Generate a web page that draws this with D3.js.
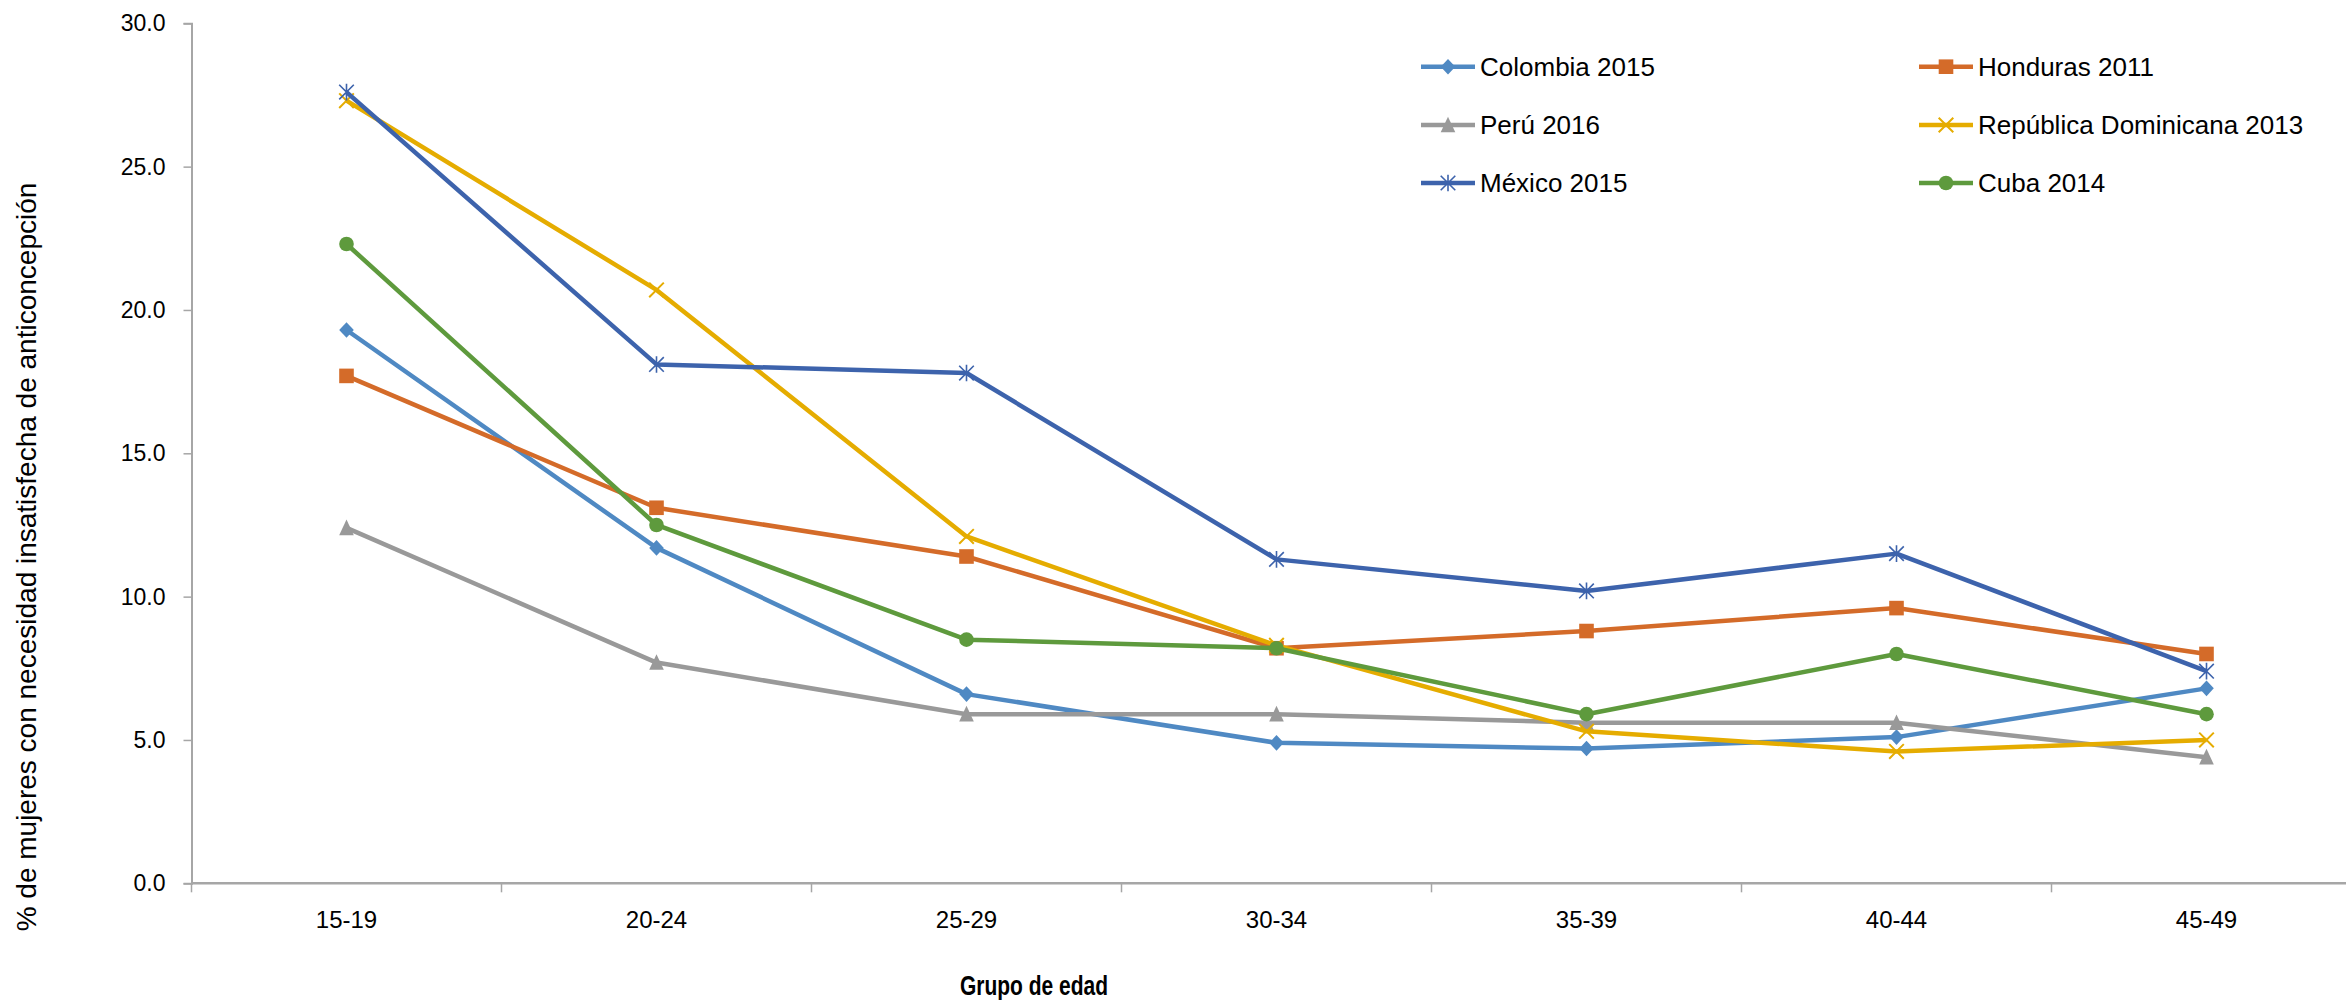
<!DOCTYPE html>
<html>
<head>
<meta charset="utf-8">
<script src="https://cdn.jsdelivr.net/npm/d3@7"></script>
<style>
  html, body { margin: 0; padding: 0; background: #ffffff; }
  svg { display: block; }
  text { font-family: "Liberation Sans", Arial, sans-serif; fill: #000; }
</style>
</head>
<body>
<svg id="chart" width="2346" height="1000"></svg>
<script>
// ---- data ----
const categories = ["15-19", "20-24", "25-29", "30-34", "35-39", "40-44", "45-49"];
const seriesNames = ["Colombia 2015", "Honduras 2011", "Perú 2016", "República Dominicana 2013", "México 2015", "Cuba 2014"];
const colombia = [19.3, 11.7, 6.6, 4.9, 4.7, 5.1, 6.8];
const honduras = [17.7, 13.1, 11.4, 8.2, 8.8, 9.6, 8.0];
const peru = [12.4, 7.7, 5.9, 5.9, 5.6, 5.6, 4.4];
const repDominicana = [27.3, 20.7, 12.1, 8.3, 5.3, 4.6, 5.0];
const mexico = [27.6, 18.1, 17.8, 11.3, 10.2, 11.5, 7.4];
const cuba = [22.3, 12.5, 8.5, 8.2, 5.9, 8.0, 5.9];
const yTicks = [0, 5, 10, 15, 20, 25, 30];
const yTitle = "% de mujeres con necesidad insatisfecha de anticoncepción";
const xTitle = "Grupo de edad";

// ---- styles ----
const colors = ["#4F89C3", "#D46B29", "#999999", "#E5AC00", "#3D63AC", "#5E9A3D"];
const markers = ["diamond", "square", "triangle", "cross", "asterisk", "circle"];
const seriesValues = [colombia, honduras, peru, repDominicana, mexico, cuba];

const svg = d3.select("#chart");
const plotLeft = 191.5, plotRight = 2361.5, plotTop = 23.3, plotBottom = 883.3;

const x = d3.scaleBand().domain(categories).range([plotLeft, plotRight]).padding(0);
const y = d3.scaleLinear().domain([0, 30]).range([plotBottom, plotTop]);
const cx = c => x(c) + x.bandwidth() / 2;

const axisColor = "#A6A6A6";

// Y axis
const yAxis = svg.append("g").attr("transform", `translate(${plotLeft},0)`)
  .call(d3.axisLeft(y).tickValues(yTicks).tickFormat(d3.format(".1f")).tickSize(8).tickPadding(18));
yAxis.select(".domain").attr("stroke", axisColor).attr("stroke-width", 2);
yAxis.selectAll(".tick line").attr("stroke", axisColor).attr("stroke-width", 1.5);
yAxis.selectAll(".tick text").attr("font-size", 23).attr("font-family", "Liberation Sans, Arial, sans-serif").attr("fill", "#000");

// X axis: labels centered in bands, tick marks at band boundaries
const xAxis = svg.append("g").attr("transform", `translate(0,${plotBottom})`)
  .call(d3.axisBottom(x).tickSize(0).tickPadding(28));
xAxis.select(".domain").remove();
xAxis.selectAll(".tick text").attr("font-size", 24).attr("font-family", "Liberation Sans, Arial, sans-serif").attr("fill", "#000");
svg.append("line").attr("x1", plotLeft).attr("x2", 2346).attr("y1", plotBottom).attr("y2", plotBottom)
  .attr("stroke", axisColor).attr("stroke-width", 2.5);
svg.append("g").selectAll("line").data(d3.range(categories.length + 1)).join("line")
  .attr("x1", i => plotLeft + i * x.step()).attr("x2", i => plotLeft + i * x.step())
  .attr("y1", plotBottom).attr("y2", plotBottom + 9)
  .attr("stroke", axisColor).attr("stroke-width", 1.5);

// marker drawing
function drawMarker(g, type, color, px, py) {
  const s = 7.3;
  if (type === "diamond") {
    g.append("path").attr("d", `M${px},${py - s - 0.5}L${px + s},${py}L${px},${py + s + 0.5}L${px - s},${py}Z`).attr("fill", color);
  } else if (type === "square") {
    g.append("rect").attr("x", px - s).attr("y", py - s).attr("width", 2 * s).attr("height", 2 * s).attr("fill", color);
  } else if (type === "triangle") {
    g.append("path").attr("d", `M${px},${py - s - 1}L${px + s},${py + s}L${px - s},${py + s}Z`).attr("fill", color);
  } else if (type === "circle") {
    g.append("circle").attr("cx", px).attr("cy", py).attr("r", s).attr("fill", color);
  } else if (type === "cross") {
    g.append("path").attr("d", `M${px - s},${py - s}L${px + s},${py + s}M${px - s},${py + s}L${px + s},${py - s}`)
      .attr("stroke", color).attr("stroke-width", 2).attr("fill", "none");
  } else if (type === "asterisk") {
    g.append("path").attr("d", `M${px - s},${py - s}L${px + s},${py + s}M${px - s},${py + s}L${px + s},${py - s}M${px},${py - s - 1}L${px},${py + s + 1}`)
      .attr("stroke", color).attr("stroke-width", 1.6).attr("fill", "none");
  }
}

// series
const line = d3.line().x((d, i) => cx(categories[i])).y(d => y(d));
seriesValues.forEach((vals, si) => {
  const g = svg.append("g");
  g.append("path").attr("d", line(vals)).attr("fill", "none")
    .attr("stroke", colors[si]).attr("stroke-width", 4.5).attr("stroke-linejoin", "round");
  vals.forEach((v, i) => drawMarker(g, markers[si], colors[si], cx(categories[i]), y(v)));
});

// legend
const legendCols = [1421, 1919];
const legendRows = [66.7, 125, 183];
seriesNames.forEach((name, si) => {
  const lx = legendCols[si % 2], ly = legendRows[Math.floor(si / 2)];
  const g = svg.append("g");
  g.append("line").attr("x1", lx).attr("x2", lx + 54).attr("y1", ly).attr("y2", ly)
    .attr("stroke", colors[si]).attr("stroke-width", 4.5);
  drawMarker(g, markers[si], colors[si], lx + 27, ly);
  g.append("text").attr("x", lx + 59).attr("y", ly).attr("dy", "0.35em")
    .attr("font-size", 26).text(name);
});

// axis titles
svg.append("text").attr("transform", `translate(36,557) rotate(-90)`)
  .attr("text-anchor", "middle").attr("font-size", 28).text(yTitle);
svg.append("text").attr("x", 1034).attr("y", 995).attr("text-anchor", "middle")
  .attr("font-size", 28).attr("font-weight", "bold")
  .attr("textLength", 148).attr("lengthAdjust", "spacingAndGlyphs").text(xTitle);
</script>
</body>
</html>
